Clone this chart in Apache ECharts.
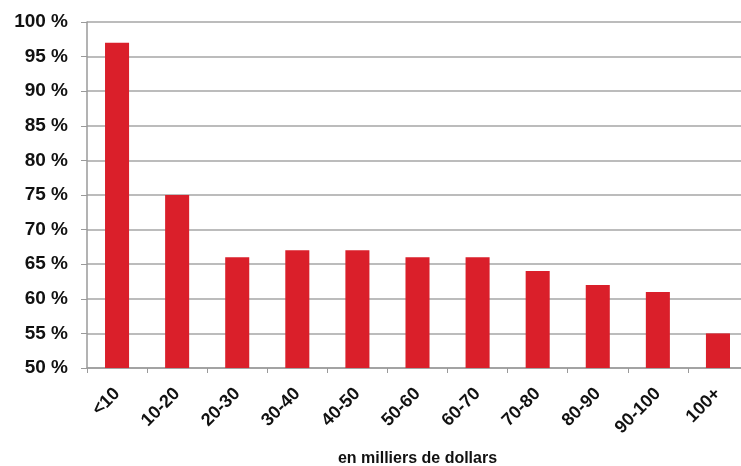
<!DOCTYPE html>
<html><head><meta charset="utf-8">
<script src="https://cdn.jsdelivr.net/npm/echarts@6/dist/echarts.min.js"></script>
<style>html,body{margin:0;padding:0;background:#fff}#c{width:741px;height:466px}</style>
</head><body><div id="c"></div>
<script>
const categories = ['<10','10-20','20-30','30-40','40-50','50-60','60-70','70-80','80-90','90-100','100+'];
const values = [97,75,66,67,67,66,66,64,62,61,55];
const yMin = 50, yMax = 100, yStep = 5;
const xTitle = 'en milliers de dollars';

const chart = echarts.init(document.getElementById('c'), null, {renderer:'canvas'});
chart.setOption({
  animation:false,
  grid:{left:87, right:-7, top:22, bottom:98, outerBoundsMode:'none', containLabel:false},
  xAxis:{
    type:'category', data:categories,
    axisLine:{lineStyle:{color:'#9a9a9a', width:1.5}},
    axisTick:{show:true, length:5, lineStyle:{color:'#9a9a9a'}},
    axisLabel:{rotate:45, margin:23, color:'#111', fontFamily:'Liberation Sans, Arial', fontWeight:'bold', fontSize:18, interval:0},
    name:xTitle, nameLocation:'middle', nameGap:83,
    nameTextStyle:{color:'#111', fontFamily:'Liberation Sans, Arial', fontWeight:'bold', fontSize:16}
  },
  yAxis:{
    type:'value', min:yMin, max:yMax, interval:yStep,
    axisLine:{show:true, lineStyle:{color:'#9a9a9a', width:1.5}},
    axisTick:{show:true, length:6, lineStyle:{color:'#9a9a9a'}},
    splitLine:{lineStyle:{color:'#a6a6a6', width:1.5}},
    axisLabel:{margin:19, color:'#111', fontFamily:'Liberation Sans, Arial', fontWeight:'bold', fontSize:19,
      formatter: v => v + ' %'}
  },
  series:[{type:'bar', data:values, barWidth:'40%', itemStyle:{color:'#DA1F2A'}}]
});
</script></body></html>
